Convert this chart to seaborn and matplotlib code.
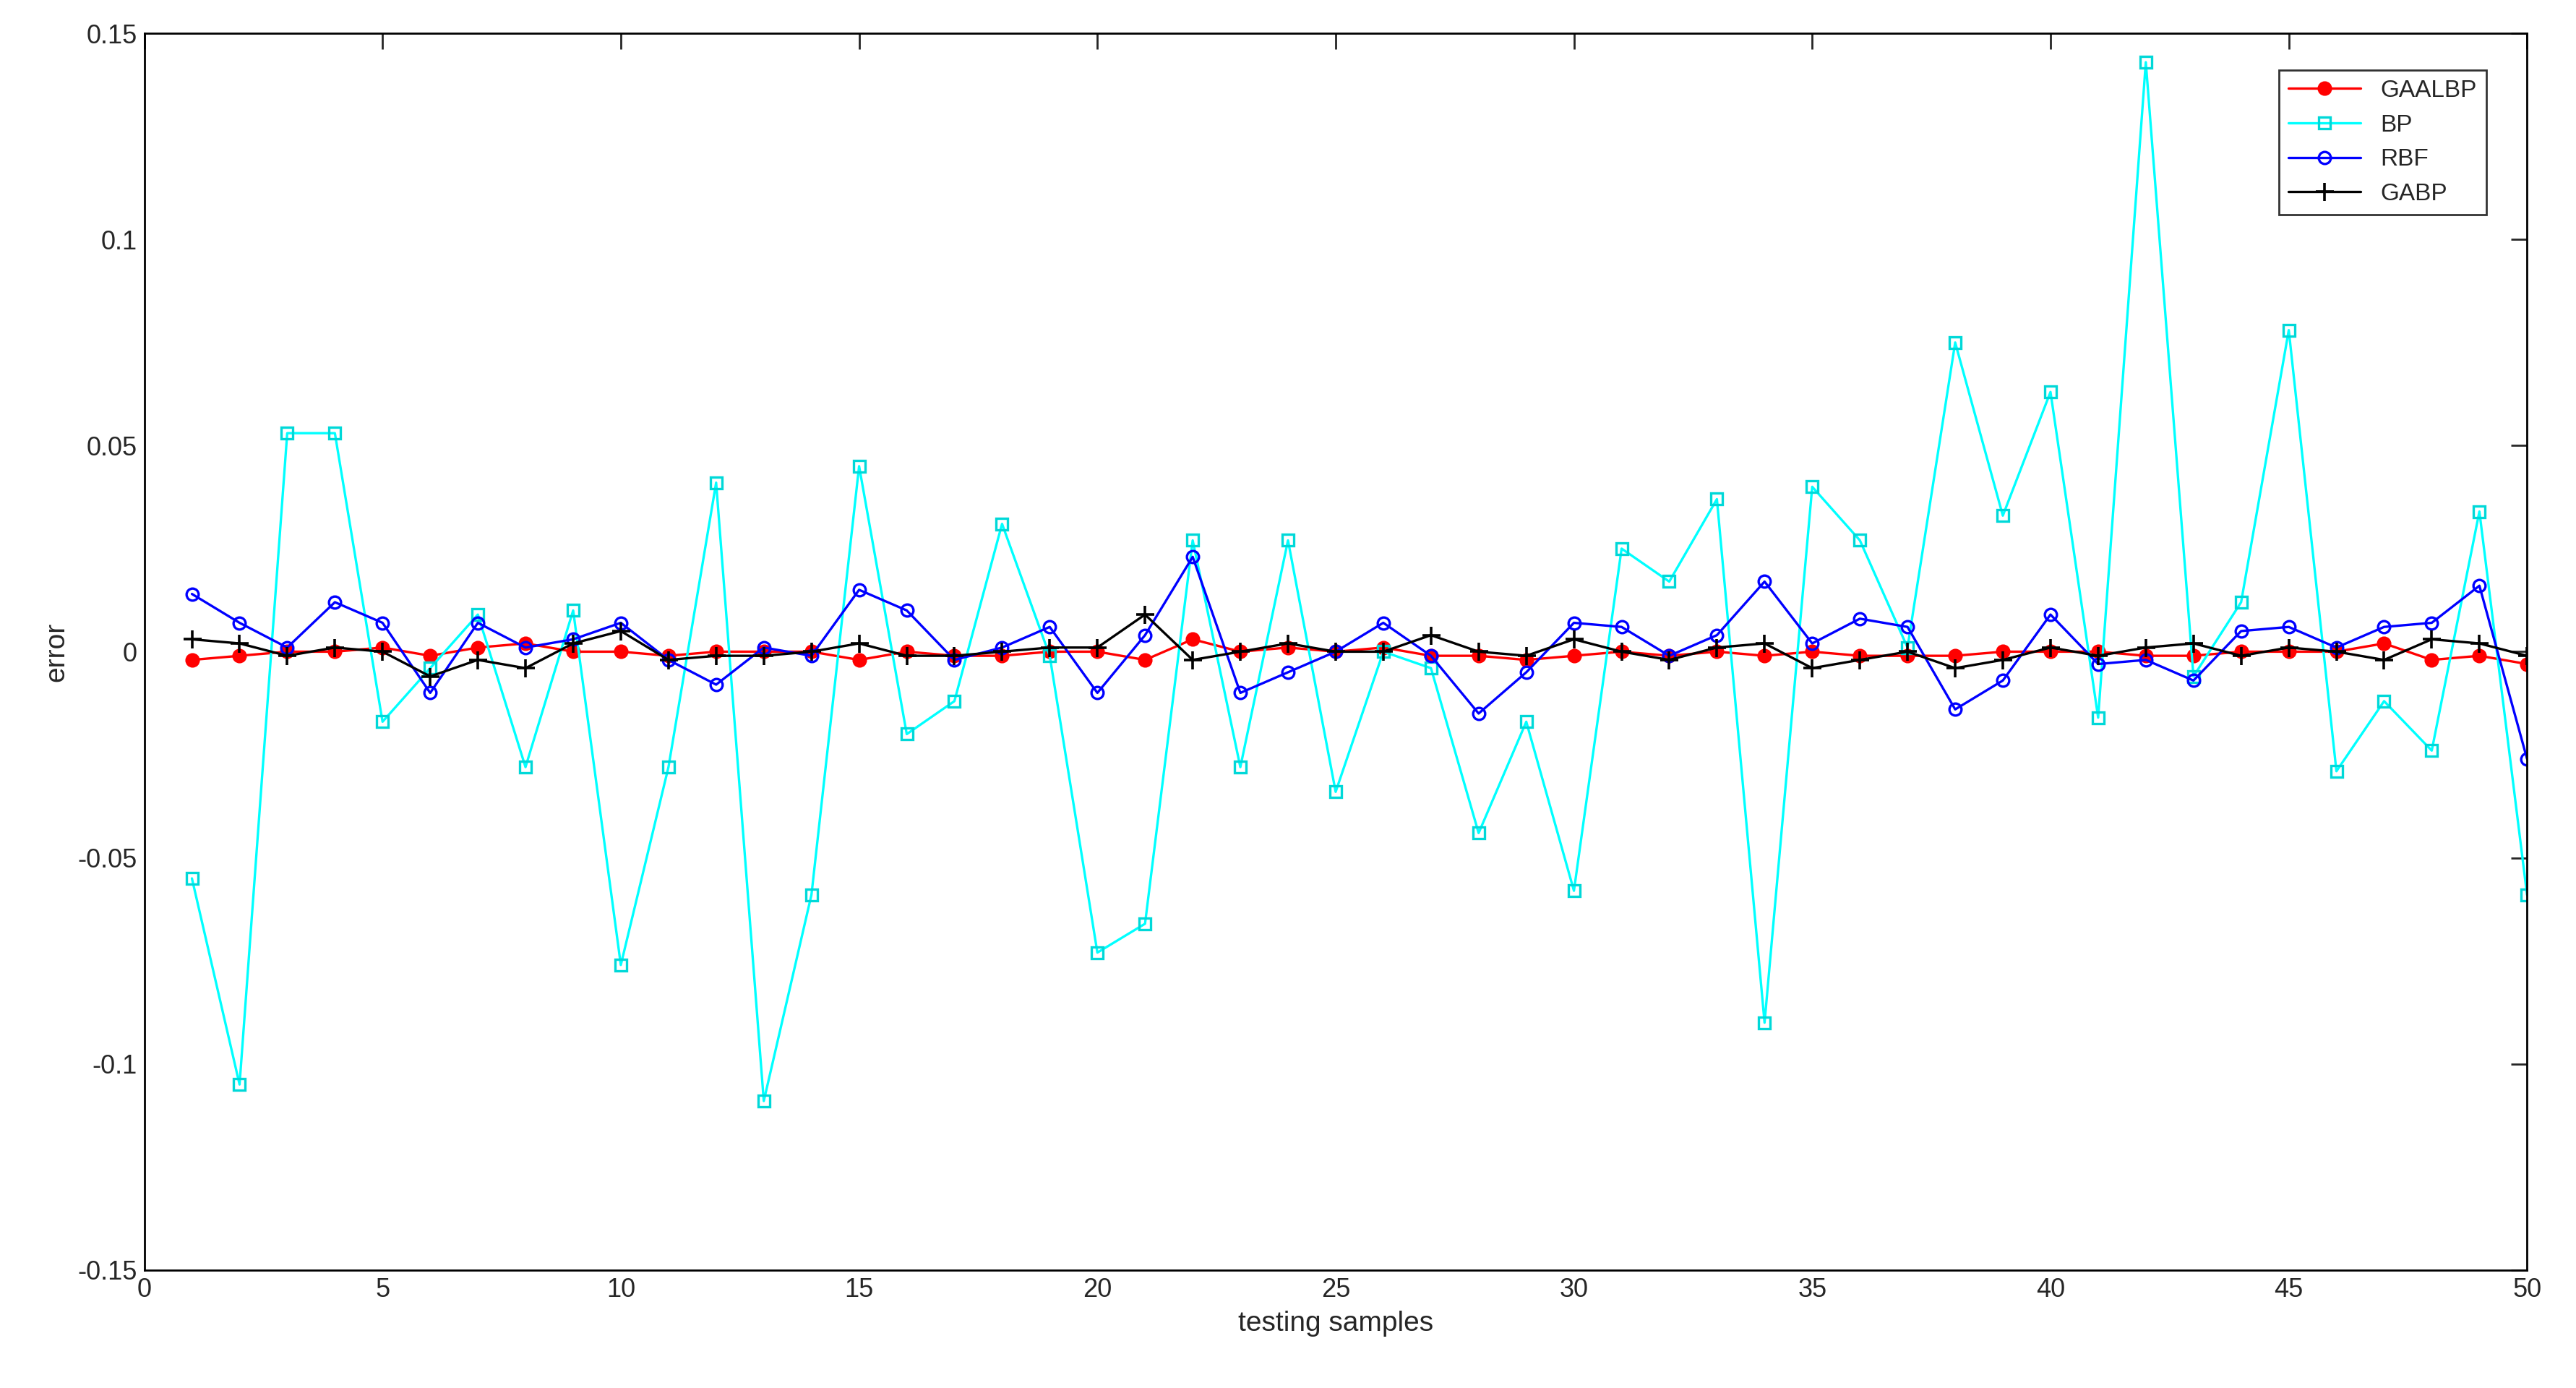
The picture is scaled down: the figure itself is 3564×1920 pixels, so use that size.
import numpy as np
import pandas as pd
import matplotlib
matplotlib.use("Agg")
import matplotlib.pyplot as plt
import seaborn as sns

samples = list(range(1, 51))
bp = [-0.055,-0.105,0.053,0.053,-0.017,-0.004,0.009,-0.028,0.010,-0.076,
      -0.028,0.041,-0.109,-0.059,0.045,-0.020,-0.012,0.031,-0.001,-0.073,
      -0.066,0.027,-0.028,0.027,-0.034,0.000,-0.004,-0.044,-0.017,-0.058,
      0.025,0.017,0.037,-0.090,0.040,0.027,0.001,0.075,0.033,0.063,
      -0.016,0.143,-0.006,0.012,0.078,-0.029,-0.012,-0.024,0.034,-0.059]
rbf = [0.014,0.007,0.001,0.012,0.007,-0.010,0.007,0.001,0.003,0.007,
       -0.002,-0.008,0.001,-0.001,0.015,0.010,-0.002,0.001,0.006,-0.010,
       0.004,0.023,-0.010,-0.005,0.000,0.007,-0.001,-0.015,-0.005,0.007,
       0.006,-0.001,0.004,0.017,0.002,0.008,0.006,-0.014,-0.007,0.009,
       -0.003,-0.002,-0.007,0.005,0.006,0.001,0.006,0.007,0.016,-0.026]
gaalbp = [-0.002,-0.001,0.000,0.000,0.001,-0.001,0.001,0.002,0.000,0.000,
          -0.001,0.000,0.000,0.000,-0.002,0.000,-0.001,-0.001,0.000,0.000,
          -0.002,0.003,0.000,0.001,0.000,0.001,-0.001,-0.001,-0.002,-0.001,
          0.000,-0.001,0.000,-0.001,0.000,-0.001,-0.001,-0.001,0.000,0.000,
          0.000,-0.001,-0.001,0.000,0.000,0.000,0.002,-0.002,-0.001,-0.003]
gabp = [0.003,0.002,-0.001,0.001,0.000,-0.006,-0.002,-0.004,0.002,0.005,
        -0.002,-0.001,-0.001,0.000,0.002,-0.001,-0.001,0.000,0.001,0.001,
        0.009,-0.002,0.000,0.002,0.000,0.000,0.004,0.000,-0.001,0.003,
        0.000,-0.002,0.001,0.002,-0.004,-0.002,0.000,-0.004,-0.002,0.001,
        -0.001,0.001,0.002,-0.001,0.001,0.000,-0.002,0.003,0.002,-0.001]

sns.set_style("white")
plt.rcParams['font.family'] = ['Arial', 'Liberation Sans', 'DejaVu Sans']

fig = plt.figure(figsize=(17.82, 9.6), dpi=200)
ax = fig.add_axes([0.056, 0.085, 0.925, 0.891])

series = [
    ("GAALBP", gaalbp, dict(color="red", marker="o", markersize=6.5, markerfacecolor="red", markeredgecolor="red")),
    ("BP", bp, dict(color="cyan", marker="s", markersize=6, markerfacecolor="none", markeredgecolor="#00d8d8", markeredgewidth=1.2)),
    ("RBF", rbf, dict(color="blue", marker="o", markersize=6, markerfacecolor="none", markeredgecolor="blue", markeredgewidth=1.2)),
    ("GABP", gabp, dict(color="black", marker="+", markersize=9, markeredgecolor="black", markeredgewidth=1.3)),
]
for name, vals, kw in series:
    sns.lineplot(x=samples, y=vals, ax=ax, label=name, linewidth=1.2, **kw)

ax.set_xlim(0, 50)
ax.set_ylim(-0.15, 0.15)
ax.set_xticks(range(0, 51, 5))
yt = [-0.15, -0.1, -0.05, 0, 0.05, 0.1, 0.15]
ax.set_yticks(yt)
ax.set_yticklabels(["-0.15", "-0.1", "-0.05", "0", "0.05", "0.1", "0.15"])
ax.tick_params(direction="in", length=8, labelsize=13, top=True, right=True, width=1)
for s in ax.spines.values():
    s.set_visible(True); s.set_color("black"); s.set_linewidth(1)
ax.set_xlabel("testing samples", fontsize=14)
ax.set_ylabel("error", fontsize=14)
leg = ax.legend(loc="upper right", fontsize=12, frameon=True, fancybox=False,
                edgecolor="black", borderaxespad=1.0, handlelength=3,
                bbox_to_anchor=(0.993, 0.99))
leg.get_frame().set_linewidth(1)
fig.savefig("out.png", dpi=200)
